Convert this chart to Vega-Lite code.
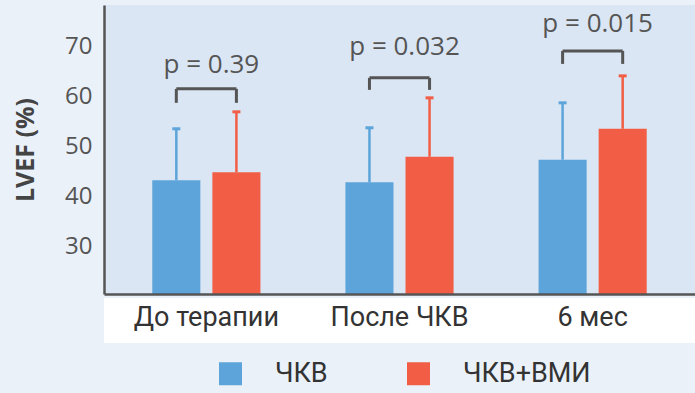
{
  "$schema": "https://vega.github.io/schema/vega-lite/v6.json",
  "autosize": {"type": "none"},
  "padding": {"left": 104, "top": 5, "right": 0, "bottom": 99},
  "width": 591,
  "height": 289,
  "background": "#eaf1f9",
  "view": {"fill": "#dbe6f4", "stroke": null},
  "data": {
    "values": [
      {"phase": "До терапии", "g": "ЧКВ", "mean": 43.2, "upper": 53.5, "bLo": 58.7, "bHi": 61.5, "pY": 66.3, "p": "p = 0.39"},
      {"phase": "До терапии", "g": "ЧКВ+ВМИ", "mean": 44.8, "upper": 56.9, "bLo": 58.7, "bHi": 61.5, "pY": 66.3, "p": "p = 0.39"},
      {"phase": "После ЧКВ", "g": "ЧКВ", "mean": 42.8, "upper": 53.7, "bLo": 61.3, "bHi": 63.7, "pY": 69.9, "p": "p = 0.032"},
      {"phase": "После ЧКВ", "g": "ЧКВ+ВМИ", "mean": 47.9, "upper": 59.7, "bLo": 61.3, "bHi": 63.7, "pY": 69.9, "p": "p = 0.032"},
      {"phase": "6 мес", "g": "ЧКВ", "mean": 47.3, "upper": 58.7, "bLo": 66.5, "bHi": 69.1, "pY": 74.5, "p": "p = 0.015"},
      {"phase": "6 мес", "g": "ЧКВ+ВМИ", "mean": 53.5, "upper": 64.1, "bLo": 66.5, "bHi": 69.1, "pY": 74.5, "p": "p = 0.015"}
    ]
  },
  "encoding": {
    "x": {
      "field": "phase", "type": "nominal", "sort": null,
      "scale": {"paddingInner": 0.44, "paddingOuter": 0.25},
      "axis": {"title": null, "labelAngle": 0, "ticks": false, "domainColor": "#555555", "domainWidth": 2.5,
        "labelFont": "Roboto", "labelFontSize": 27, "labelColor": "#333333", "labelPadding": 10, "zindex": 1}
    },
    "xOffset": {"field": "g", "type": "nominal", "sort": null, "scale": {"paddingInner": 0.2, "paddingOuter": 0}}
  },
  "layer": [
    {
      "mark": {"type": "rect", "color": "white"},
      "encoding": {"x": null, "xOffset": null, "y": {"datum": 19.6, "type": "quantitative"}, "y2": {"datum": 10.6}}
    },
    {
      "mark": {"type": "bar"},
      "encoding": {
        "y": {"field": "mean", "type": "quantitative",
          "scale": {"domain": [20.4, 78.3], "nice": false, "zero": false},
          "axis": {"title": "LVEF (%)", "values": [30, 40, 50, 60, 70], "grid": false, "ticks": false,
            "domainColor": "#555555", "domainWidth": 2.5, "labelFont": "Open Sans", "labelFontSize": 24,
            "labelColor": "#555555", "labelPadding": 12, "titleFont": "Open Sans", "titleFontWeight": "bold",
            "titleFontSize": 25, "titleColor": "#444444", "titlePadding": 26}},
        "y2": {"datum": 20.4},
        "color": {"field": "g", "type": "nominal", "sort": null,
          "scale": {"domain": ["ЧКВ", "ЧКВ+ВМИ"], "range": ["#5ca4d9", "#f15e45"]},
          "legend": {"title": null, "orient": "none", "direction": "horizontal", "legendX": 113, "legendY": 355,
            "symbolType": "square", "symbolSize": 529, "symbolStrokeWidth": 0, "symbolOpacity": 1,
            "labelFont": "Roboto", "labelFontSize": 27, "labelColor": "#333333", "labelOffset": 31,
            "columnPadding": 77, "padding": 0}}
      }
    },
    {
      "mark": {"type": "rule", "strokeWidth": 2.5},
      "encoding": {"y": {"field": "mean", "type": "quantitative"}, "y2": {"field": "upper"},
        "stroke": {"field": "g", "type": "nominal", "sort": null, "scale": {"domain": ["ЧКВ", "ЧКВ+ВМИ"], "range": ["#5ca4d9", "#f15e45"]}, "legend": null}}
    },
    {
      "mark": {"type": "tick", "thickness": 3, "size": 8, "opacity": 1},
      "encoding": {"y": {"field": "upper", "type": "quantitative"},
        "fill": {"field": "g", "type": "nominal", "sort": null, "scale": {"domain": ["ЧКВ", "ЧКВ+ВМИ"], "range": ["#5ca4d9", "#f15e45"]}, "legend": null}}
    },
    {
      "mark": {"type": "rule", "strokeWidth": 3, "color": "#555555"},
      "encoding": {"y": {"field": "bLo", "type": "quantitative"}, "y2": {"field": "bHi"}}
    },
    {
      "mark": {"type": "line", "strokeWidth": 3, "color": "#555555"},
      "encoding": {"y": {"field": "bHi", "type": "quantitative"}, "detail": {"field": "phase"}}
    },
    {
      "transform": [{"filter": "datum.g === 'ЧКВ'"}],
      "mark": {"type": "text", "font": "Open Sans", "fontSize": 26, "color": "#555555", "baseline": "middle", "dx": 5},
      "encoding": {"xOffset": null, "y": {"field": "pY", "type": "quantitative"}, "text": {"field": "p"}}
    }
  ]
}
